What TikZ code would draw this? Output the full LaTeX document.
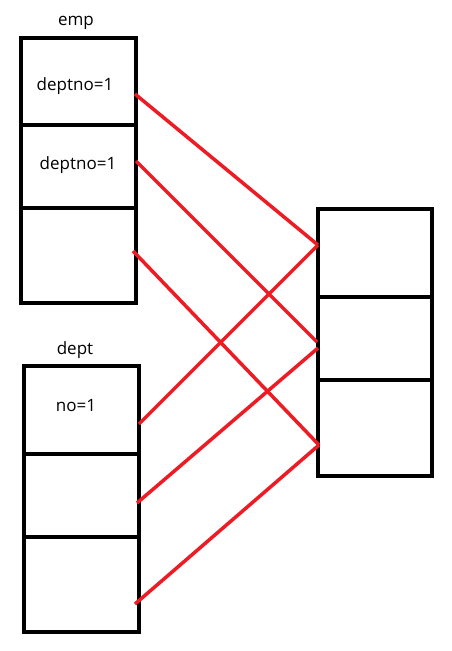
\documentclass[tikz,border=0pt]{standalone}
\usepackage{fontspec}
\setmainfont{Open Sans}
\definecolor{paintred}{RGB}{237,28,36}
\begin{document}
\begin{tikzpicture}[x=1pt,y=-1pt,
  cell/.style={draw=black,line width=4pt},
  link/.style={draw=paintred,line width=3.5pt},
  lbl/.style={font=\fontsize{17}{19}\selectfont,inner sep=0pt}]
\useasboundingbox (0,0) rectangle (452,651);
% emp
\draw[cell] (21,38) rectangle (136,303);
\draw[cell] (21,125) -- (136,125);
\draw[cell] (21,208) -- (136,208);
% dept
\draw[cell] (24,366) rectangle (139,632);
\draw[cell] (24,454) -- (139,454);
\draw[cell] (24,537) -- (139,537);
% right
\draw[cell] (318,209) rectangle (432,476);
\draw[cell] (318,297) -- (432,297);
\draw[cell] (318,380) -- (432,380);
% labels
\node[lbl] (empl) at (76,23) {emp};
\node[lbl] (deptl) at (75,350) {dept};
\node[lbl] (e1) at (75,86) {deptno=1};
\node[lbl] (e2) at (78,165) {deptno=1};
\node[lbl] (d1) at (76,406) {no=1};
% anchor points
\coordinate (a1) at (135,94);
\coordinate (a2) at (136,161);
\coordinate (a3) at (133,251);
\coordinate (b1) at (139,424);
\coordinate (b2) at (137,503);
\coordinate (b3) at (135,604);
\coordinate (r1) at (318,245);
\coordinate (r2a) at (317,342);
\coordinate (r2b) at (318,348);
\coordinate (r3) at (319,445);
\draw[link] (a1) -- (r1);
\draw[link] (a2) -- (r2a);
\draw[link] (a3) -- (r3);
\draw[link] (b1) -- (r1);
\draw[link] (b2) -- (r2b);
\draw[link] (b3) -- (r3);
\end{tikzpicture}
\end{document}
